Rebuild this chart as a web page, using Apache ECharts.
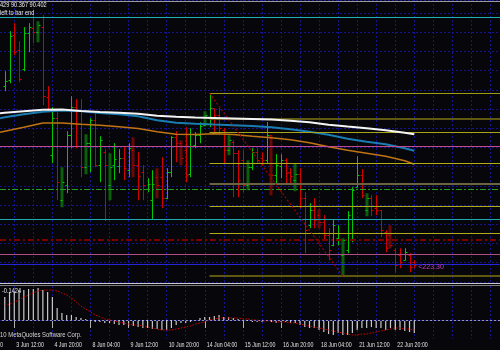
<!DOCTYPE html>
<html><head><meta charset="utf-8">
<script src="https://cdn.jsdelivr.net/npm/echarts@6/dist/echarts.min.js"></script>
<style>html,body{margin:0;padding:0;background:#07070b}#c{width:500px;height:350px}</style>
</head><body><div id="c"></div>
<script>
// ---- time axis labels (H4 bars, one label every 8 bars starting at bar 2) ----
const timeLabels = ['3 Jun 12:00','4 Jun 20:00','8 Jun 04:00','9 Jun 12:00','10 Jun 20:00','14 Jun 04:00','15 Jun 12:00','16 Jun 20:00','18 Jun 04:00','21 Jun 12:00','22 Jun 20:00'];
// ---- OHLC price bars (bar 0 .. 86) ----
const openP  = [91.62,91.68,92.13,91.98,91.79,92.15,92.20,92.16,92.21,91.51,90.93,91.30,90.48,90.63,91.13,91.41,91.38,90.81,91.05,91.28,90.83,90.96,90.63,90.83,90.82,90.90,90.78,90.98,90.83,90.76,90.59,90.48,90.71,90.71,90.50,90.76,91.11,91.05,90.98,90.74,91.03,91.13,91.23,91.30,91.40,91.33,91.18,90.98,91.06,90.95,90.88,90.63,90.81,90.96,90.90,90.88,91.13,90.73,90.82,90.88,90.76,90.68,90.74,90.50,90.23,90.38,90.33,90.26,90.13,90.03,90.10,89.93,89.98,90.08,90.61,90.73,90.38,90.50,90.40,90.38,90.16,90.13,89.98,89.93,89.88,89.93,89.86];
const highP  = [91.77,92.17,92.25,92.07,92.21,92.25,92.33,92.27,92.33,91.62,91.41,91.36,90.81,91.17,91.52,91.49,91.49,91.14,91.30,91.35,91.12,90.99,90.95,91.05,90.99,91.01,91.05,91.11,90.96,90.83,90.70,90.78,90.80,90.91,90.80,91.12,91.17,91.08,91.21,91.20,91.16,91.26,91.37,91.55,91.40,91.40,91.20,91.13,91.08,90.98,90.98,90.88,91.00,91.00,90.96,91.26,91.13,90.94,90.94,90.90,90.80,90.85,90.80,90.56,90.45,90.50,90.39,90.33,90.20,90.29,90.23,90.10,90.37,90.61,90.92,90.79,90.55,90.53,90.53,90.38,90.18,90.23,90.00,90.00,90.00,89.95,89.88];
const lowP   = [91.57,91.65,91.93,91.66,91.77,91.96,92.05,92.06,91.43,91.36,90.85,90.48,90.41,90.55,91.00,91.00,90.71,90.74,90.76,90.81,90.66,90.27,90.48,90.68,90.75,90.68,90.71,90.71,90.48,90.48,90.56,90.29,90.50,90.40,90.49,90.71,90.86,90.83,90.66,90.71,91.00,91.05,91.22,91.21,91.15,91.13,90.85,90.93,90.51,90.51,90.56,90.58,90.78,90.85,90.83,90.85,90.53,90.63,90.70,90.65,90.63,90.57,90.40,89.95,90.20,90.20,90.20,90.08,89.88,90.02,90.03,89.72,89.95,90.06,90.61,90.50,90.32,90.32,90.33,90.11,89.96,90.00,89.76,89.80,89.88,89.76,89.80];
const closeP = [91.67,92.12,91.96,91.69,92.15,92.21,92.16,92.23,91.52,91.39,91.30,90.66,90.66,91.13,91.41,91.38,90.81,91.05,91.28,90.83,91.08,90.83,90.81,90.89,90.90,90.80,91.00,90.83,90.72,90.63,90.64,90.64,90.63,90.50,90.76,91.11,91.05,90.90,90.73,91.14,91.13,91.22,91.33,91.40,91.33,91.20,90.98,91.08,90.95,90.68,90.63,90.81,90.96,90.88,90.88,91.13,90.73,90.83,90.88,90.75,90.72,90.74,90.50,90.18,90.38,90.28,90.26,90.13,89.98,90.23,90.15,90.08,90.33,90.58,90.73,90.53,90.50,90.38,90.38,90.18,90.00,90.03,89.83,89.86,89.96,89.81,89.83];
// bars drawn with a wide dark body (highlighted bars)
const highlightBars = [7,12,17,22,27,32,37,42,47,51,56,61,66,71,76,81];
// ---- moving averages (sampled at these bars) ----
const maBars   = [-1,0,4,8,12,16,20,24,28,32,36,40,44,48,52,56,60,64,68,72,76,80,84,86];
const maWhite  = [91.35,91.355,91.37,91.385,91.387,91.373,91.363,91.355,91.345,91.325,91.315,91.308,91.303,91.298,91.292,91.286,91.275,91.26,91.235,91.217,91.20,91.18,91.155,91.14];
const maBlue   = [91.30,91.31,91.34,91.365,91.377,91.372,91.353,91.34,91.32,91.28,91.255,91.245,91.237,91.23,91.223,91.21,91.19,91.165,91.135,91.095,91.065,91.04,91.00,90.975];
const maOrange = [91.16,91.17,91.21,91.253,91.253,91.24,91.23,91.215,91.197,91.165,91.14,91.137,91.145,91.137,91.12,91.105,91.085,91.055,91.015,90.98,90.95,90.92,90.875,90.84];
// ---- oscillator (histogram + signal), bar 0 .. 86 ----
const histogram = [0.23,0.28,0.28,0.30,0.30,0.31,0.31,0.32,0.30,0.28,0.23,0.12,0.07,0.05,0.05,0.03,0.02,0.01,-0.01,-0.02,-0.02,-0.03,-0.03,-0.04,-0.05,-0.05,-0.06,-0.06,-0.07,-0.08,-0.08,-0.09,-0.09,-0.10,-0.10,-0.08,-0.05,-0.03,-0.03,-0.02,0.00,0.02,0.03,0.03,0.04,0.05,0.03,0.03,0.02,0.01,0.00,-0.01,-0.02,-0.02,-0.02,-0.01,-0.02,-0.03,-0.02,-0.02,-0.03,-0.03,-0.05,-0.07,-0.08,-0.08,-0.10,-0.12,-0.14,-0.15,-0.13,-0.15,-0.15,-0.13,-0.10,-0.08,-0.08,-0.07,-0.08,-0.08,-0.10,-0.08,-0.10,-0.10,-0.11,-0.12,-0.13];
const signal = [0.14,0.16,0.18,0.20,0.23,0.25,0.27,0.29,0.30,0.30,0.30,0.29,0.27,0.25,0.22,0.18,0.14,0.11,0.08,0.05,0.03,0.01,0.00,-0.01,-0.02,-0.03,-0.04,-0.05,-0.05,-0.06,-0.07,-0.08,-0.09,-0.10,-0.10,-0.10,-0.09,-0.08,-0.07,-0.06,-0.04,-0.03,-0.02,0.00,0.01,0.02,0.02,0.02,0.02,0.02,0.01,0.01,0.00,0.00,-0.01,-0.01,-0.01,-0.02,-0.02,-0.02,-0.03,-0.03,-0.04,-0.05,-0.06,-0.07,-0.08,-0.09,-0.10,-0.11,-0.12,-0.13,-0.14,-0.15,-0.15,-0.14,-0.14,-0.13,-0.12,-0.11,-0.10,-0.09,-0.08,-0.08,-0.09,-0.09,-0.10];
// ---- drawn objects: horizontal levels, fibonacci levels, trend line ----
const fullLevels = [92.47, 92.31, 91.02, 90.59, 90.29, 90.08, 89.94, 89.84];
const fibLevels  = [91.55, 91.29, 91.16, 90.85, 90.64, 90.42, 90.15, 89.72];
const fibStartBar = 43;
const trendBars = [43, 71];
const trendPrices = [91.55, 89.72];
const lastLabelText = '<223.30';
const lastLabelPrice = 89.81;
const headerLines = ['429 90.367 90.402', 'left to bar end'];
const oscLabel = '-0.1424';
const copyrightText = '10 MetaQuotes Software Corp.';

// ---- styling (kept separate from data) ----
const fullStyles = [
  {color:'#9a9a9a', width:1, type:'solid'},
  {color:'#1fb0b4', width:1, type:'solid'},
  {color:'#c24a8a', width:1, type:'solid'},
  {color:'#22a022', width:1, type:[6,2,2,2]},
  {color:'#1fa8b0', width:1, type:'solid'},
  {color:'#7a0000', width:2, type:[6,3,2,3]},
  {color:'#b04c84', width:1, type:'solid'},
  {color:'#2424d8', width:1, type:'solid'}
];
const fibStyles = [
  {color:'#9c9a10', width:1}, {color:'#5e5810', width:2}, {color:'#a8a418', width:1}, {color:'#b0ac18', width:1},
  {color:'#6a6440', width:2}, {color:'#b0ac18', width:1}, {color:'#b0ac18', width:1}, {color:'#5e5810', width:2}
];

const N = 106; // category slots: bar -1 .. 104
const OFF = 1;
const cats = [];
for (let k = 0; k < N; k++) {
  const i = k - OFF; let s = '';
  if (i >= 2 && (i - 2) % 8 === 0 && (i - 2) / 8 < timeLabels.length) s = timeLabels[(i - 2) / 8];
  cats.push(s);
}
const gridLineAt = idx => { const i = idx - OFF; return ((i - 2) % 4 + 4) % 4 === 0; };

const ohlc = openP.map((o, i) => [i + OFF, o, highP[i], lowP[i], closeP[i], highlightBars.indexOf(i) >= 0 ? 1 : 0]);
const histData = histogram.map((v, i) => [i + OFF, v]);
const sigData = signal.map((v, i) => [i + OFF, v]);
const maSeries = (arr) => maBars.map((b, j) => [b + OFF, arr[j]]);

const markFull = fullLevels.map((p, j) => ({yAxis: p, lineStyle: {color: fullStyles[j].color, width: fullStyles[j].width, type: fullStyles[j].type}}));
const markFib = fibLevels.map((p, j) => ([{coord: [fibStartBar + OFF, p], lineStyle: {color: fibStyles[j].color, width: fibStyles[j].width, type: 'solid'}}, {coord: [N - 1, p]}]));
const markTrend = [[{coord: [trendBars[0] + OFF, trendPrices[0]], lineStyle: {color: '#a00000', width: 1.2, type: [2, 2]}}, {coord: [trendBars[1] + OFF, trendPrices[1]]}]];

const FONT = "'Liberation Sans',Arial,sans-serif";
const chart = echarts.init(document.getElementById('c'), null, {renderer: 'canvas'});

function renderOHLC(params, api) {
  const x = api.value(0), o = api.value(1), h = api.value(2), l = api.value(3), c = api.value(4), hl = api.value(5);
  const pH = api.coord([x, h]), pL = api.coord([x, l]), pO = api.coord([x, o]), pC = api.coord([x, c]);
  const up = c >= o;
  const color = up ? '#00c800' : '#d40000';
  const px = Math.round(pH[0]) + 0.5;
  const st = {stroke: color, lineWidth: 1};
  const yo = Math.round(pO[1]) + 0.5, yc = Math.round(pC[1]) + 0.5;
  const children = [];
  if (hl) {
    children.push({type: 'rect', shape: {x: px - 2, y: pH[1], width: 3, height: pL[1] - pH[1]}, style: {fill: up ? '#0b5e0b' : '#6a0808'}});
  } else {
    children.push({type: 'line', shape: {x1: px, y1: pH[1], x2: px, y2: pL[1]}, style: st});
  }
  children.push({type: 'line', shape: {x1: px - 2, y1: yo, x2: px, y2: yo}, style: st});
  children.push({type: 'line', shape: {x1: px, y1: yc, x2: px + 2, y2: yc}, style: st});
  return {type: 'group', children};
}

const gridSplit = {show: true, interval: gridLineAt, lineStyle: {color: '#14148c', type: [2, 2], width: 1}};
const txt = (t, x, y, fill, size, sx) => ({type: 'text', x: x, y: y, scaleX: sx, silent: true, z: 50,
  style: {text: t, x: 0, y: 0, fill: fill, font: size + "px " + FONT, verticalAlign: 'top'}});

const baseGraphic = [
  {type: 'rect', shape: {x: 0, y: 283, width: 500, height: 1}, style: {fill: '#c8c8c8'}, silent: true},
  {type: 'rect', shape: {x: 0, y: 285, width: 500, height: 1}, style: {fill: '#808080'}, silent: true},
  txt(headerLines[0], 0, 1, '#e8e8e8', 8, 0.7),
  txt(headerLines[1], 0, 8.5, '#e8e8e8', 8, 0.7),
  txt(oscLabel, 2, 286.5, '#e8e8e8', 8, 0.7),
  txt(copyrightText, 0, 330.5, '#d4d4d4', 8, 0.74),
  txt('0', 0, 341, '#d8d8d8', 8, 0.7)
];

chart.setOption({
  backgroundColor: '#07070b',
  animation: false,
  grid: [
    {left: -1.4, right: -2.6, top: 0, height: 281.8, containLabel: false},
    {left: -1.4, right: -2.6, top: 286, height: 53, containLabel: false}
  ],
  xAxis: [
    {type: 'category', gridIndex: 0, data: cats, boundaryGap: false, axisLine: {show: false}, axisTick: {show: false}, axisLabel: {show: false}, splitLine: gridSplit},
    {type: 'category', gridIndex: 1, data: cats, boundaryGap: false,
      axisLine: {show: true, lineStyle: {color: '#9a9a9a', width: 1}},
      axisTick: {show: true, interval: (i, v) => v !== '', length: 8, lineStyle: {color: '#b0b0b0'}},
      axisLabel: {show: false},
      splitLine: gridSplit}
  ],
  yAxis: [
    {type: 'value', gridIndex: 0, min: 89.664, max: 92.482, interval: 0.192, axisLine: {show: false}, axisTick: {show: false}, axisLabel: {show: false},
      splitLine: {show: true, lineStyle: {color: '#14148c', type: [2, 2], width: 1}}},
    {type: 'value', gridIndex: 1, min: -0.19, max: 0.34, axisLine: {show: false}, axisTick: {show: false}, axisLabel: {show: false}, splitLine: {show: false}}
  ],
  series: [
    {type: 'custom', xAxisIndex: 0, yAxisIndex: 0, renderItem: renderOHLC, data: ohlc, z: 3, clip: true},
    {type: 'line', xAxisIndex: 0, yAxisIndex: 0, data: maSeries(maOrange), showSymbol: false, lineStyle: {color: '#c07414', width: 1.5}, z: 4},
    {type: 'line', xAxisIndex: 0, yAxisIndex: 0, data: maSeries(maBlue), showSymbol: false, lineStyle: {color: '#1a7cb0', width: 2}, z: 4},
    {type: 'line', xAxisIndex: 0, yAxisIndex: 0, data: maSeries(maWhite), showSymbol: false, lineStyle: {color: '#f4f4f4', width: 2}, z: 5},
    {type: 'line', xAxisIndex: 0, yAxisIndex: 0, data: [], z: 6,
      markLine: {silent: true, symbol: 'none', label: {show: false}, animation: false, data: markFull.concat(markFib, markTrend)},
      markPoint: {silent: true, symbol: 'circle', symbolSize: 0, animation: false,
        label: {show: true, position: 'right', distance: 4, formatter: lastLabelText, color: '#c23cc2', fontSize: 7, fontFamily: FONT},
        data: [{coord: [openP.length - 1 + OFF, lastLabelPrice]}]}},
    {type: 'bar', xAxisIndex: 1, yAxisIndex: 1, data: histData, barWidth: 1.2, itemStyle: {color: '#c8c8c8'}, z: 3,
      markLine: {silent: true, symbol: 'none', label: {show: false}, animation: false, data: [{yAxis: 0, lineStyle: {color: '#14148c', type: [2, 2], width: 1}}]}},
    {type: 'line', xAxisIndex: 1, yAxisIndex: 1, data: sigData, showSymbol: false, lineStyle: {color: '#d00000', width: 1, type: [1.5, 1.5]}, z: 4}
  ],
  graphic: baseGraphic
});

// time labels placed through the axis scale (narrow terminal-style text)
const labelGraphic = [];
cats.forEach((s, k) => {
  if (!s) return;
  const p = chart.convertToPixel({xAxisIndex: 1, yAxisIndex: 1}, [k, -0.19]);
  labelGraphic.push(txt(s, p[0] + 2, p[1] + 2, '#e0e0e0', 8, 0.66));
});
chart.setOption({graphic: baseGraphic.concat(labelGraphic)});
</script></body></html>
